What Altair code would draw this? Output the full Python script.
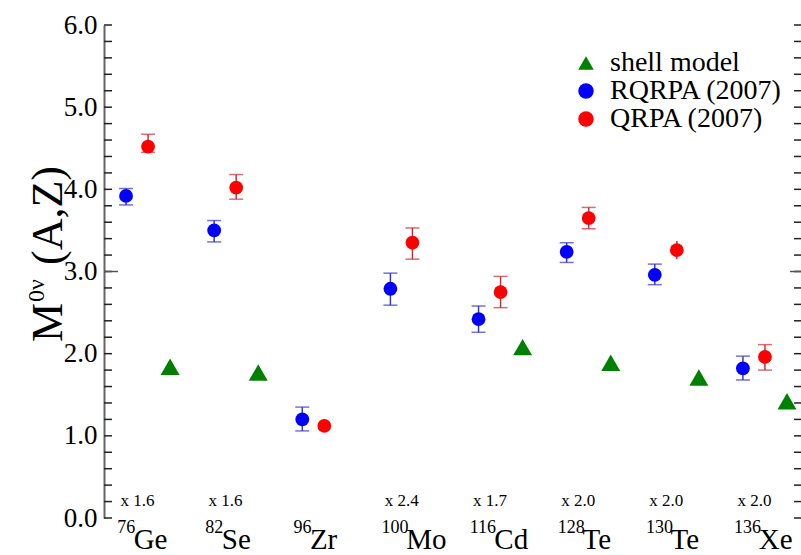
import altair as alt
import pandas as pd

# ---- data ----
mass = ["76", "82", "96", "100", "116", "128", "130", "136"]
element = ["Ge", "Se", "Zr", "Mo", "Cd", "Te", "Te", "Xe"]
factor = ["x 1.6", "x 1.6", "", "x 2.4", "x 1.7", "x 2.0", "x 2.0", "x 2.0"]

rqrpa = [3.92, 3.50, 1.20, 2.79, 2.42, 3.24, 2.96, 1.82]
rqrpa_lo = [3.81, 3.36, 1.06, 2.59, 2.26, 3.11, 2.84, 1.68]
rqrpa_hi = [4.01, 3.62, 1.35, 2.98, 2.58, 3.35, 3.09, 1.97]

qrpa = [4.52, 4.02, 1.12, 3.35, 2.75, 3.65, 3.26, 1.96]
qrpa_lo = [4.45, 3.88, 1.12, 3.15, 2.56, 3.52, 3.15, 1.80]
qrpa_hi = [4.67, 4.18, 1.12, 3.53, 2.94, 3.78, 3.37, 2.11]
qrpa_cap = [True, True, False, True, True, True, False, True]

shell = [1.84, 1.77, None, None, 2.08, 1.89, 1.71, 1.42]

y_ticks = [round(0.2 * k, 1) for k in range(31)]
y_labels = [0, 1, 2, 3, 4, 5, 6]

SERIES = ["shell model", "RQRPA (2007)", "QRPA (2007)"]
COLORS = ["#008000", "#0000ff", "#ff0000"]
SHAPES = ["triangle-up", "circle", "circle"]
FONT = "Liberation Serif"

rows = []
for i in range(8):
    rows.append(dict(series="RQRPA (2007)", x=i, v=rqrpa[i], lo=rqrpa_lo[i],
                     hi=rqrpa_hi[i], cap=True))
    rows.append(dict(series="QRPA (2007)", x=i + 0.25, v=qrpa[i], lo=qrpa_lo[i],
                     hi=qrpa_hi[i], cap=qrpa_cap[i]))
    if shell[i] is not None:
        rows.append(dict(series="shell model", x=i + 0.5, v=shell[i], lo=None,
                         hi=None, cap=False))
df = pd.DataFrame(rows)
capped = df[df["cap"] == True]
caps = pd.concat([capped.assign(c=capped["lo"]), capped.assign(c=capped["hi"])])

lab = pd.DataFrame({
    "mass": mass, "element": element, "factor": factor,
    "i": list(range(8)),
})
lab["mx"] = lab["i"] - 0.1
lab["ex"] = lab["i"] - 0.1 + lab["mass"].str.len() * 8.2 / 88.0
lab["fx"] = lab["i"] + 0.13

xs = alt.Scale(domain=[-0.25, 7.659], nice=False, zero=False)
ys = alt.Scale(domain=[0, 6], nice=False, zero=True)
X = lambda f: alt.X(f, type="quantitative", scale=xs, axis=None)

# axes
yaxis = alt.Chart(pd.DataFrame({"t": y_labels})).mark_point(opacity=0).encode(
    x=alt.X("t:Q", scale=xs, axis=alt.Axis(labels=False, ticks=False, title=None,
                                              domainColor="#000000", domainWidth=2,
                                              grid=False)),
    y=alt.Y("t:Q", scale=ys, axis=alt.Axis(values=y_labels, format=".1f",
                                              ticks=False, title=None, grid=False,
                                              labelFont=FONT, labelFontSize=27,
                                              labelColor="#000000", labelPadding=7,
                                              domainColor="#666666", domainWidth=2)),
)

tickdf = pd.DataFrame({"t": y_ticks})
lticks = alt.Chart(tickdf).mark_rule(color="#222222", strokeWidth=1.5).encode(
    y=alt.Y("t:Q", scale=ys), x=alt.value(0), x2=alt.value(8))
lticks3 = alt.Chart(pd.DataFrame({"t": [3.0]})).mark_rule(color="#555555", strokeWidth=1.5).encode(
    y=alt.Y("t:Q", scale=ys), x=alt.value(0), x2=alt.value(14))
rticks = alt.Chart(tickdf).mark_rule(color="#222222", strokeWidth=1.5).encode(
    y=alt.Y("t:Q", scale=ys), x=alt.value(690), x2=alt.value(697))
rticks3 = alt.Chart(pd.DataFrame({"t": [3.0]})).mark_rule(color="#555555", strokeWidth=1.5).encode(
    y=alt.Y("t:Q", scale=ys), x=alt.value(686), x2=alt.value(697))

# error bars (one layer per series, fixed colours)
def errlayers(name, col):
    b = alt.Chart(df).transform_filter(f"datum.series == '{name}'").mark_rule(
        strokeWidth=1.5, color=col).encode(x=X("x"), y=alt.Y("lo:Q", scale=ys), y2="hi:Q")
    c = alt.Chart(caps).transform_filter(f"datum.series == '{name}'").mark_tick(
        orient="horizontal", size=14, thickness=1.5, color=col).encode(
        x=X("x"), y=alt.Y("c:Q", scale=ys))
    return [b, c]

eb = errlayers("RQRPA (2007)", "#3636c8") + errlayers("QRPA (2007)", "#c83030")

LEG = alt.Legend(title=None, orient="none", legendX=468, legendY=24,
                 labelFont=FONT, labelFontSize=28, labelColor="#000000",
                 labelLimit=400, symbolSize=240, symbolStrokeWidth=0,
                 rowPadding=0, labelOffset=10, padding=0)
colorenc = alt.Color("series:N", scale=alt.Scale(domain=SERIES, range=COLORS), legend=LEG)
shapeenc = alt.Shape("series:N", scale=alt.Scale(domain=SERIES, range=SHAPES), legend=LEG)

circles = alt.Chart(df).transform_filter("datum.series != 'shell model'").mark_point(
    filled=True, size=190, opacity=1).encode(
    x=X("x"), y=alt.Y("v:Q", scale=ys), color=colorenc, shape=shapeenc)
tris = alt.Chart(df).transform_filter("datum.series == 'shell model'").mark_point(
    filled=True, size=360, opacity=1).encode(
    x=X("x"), y=alt.Y("v:Q", scale=ys), color=colorenc, shape=shapeenc)

# category labels
lc = alt.Chart(lab)
mtext = lc.mark_text(font=FONT, fontSize=18, align="left", baseline="alphabetic",
                     color="#000000").encode(x=X("mx"), y=alt.value(508), text="mass:N")
etext = lc.mark_text(font=FONT, fontSize=29, align="left", baseline="alphabetic",
                     color="#000000").encode(x=X("ex"), y=alt.value(524), text="element:N")
ftext = lc.mark_text(font=FONT, fontSize=17, align="center", baseline="alphabetic",
                     color="#000000").encode(x=X("fx"), y=alt.value(481), text="factor:N")

# y-axis title  M^{0nu}(A,Z)
t1 = alt.Chart(pd.DataFrame({"s": ["M"]})).mark_text(
    font=FONT, fontSize=44, angle=270, align="left", baseline="alphabetic", color="#000000"
).encode(x=alt.value(-42), y=alt.value(317), text="s:N")
t2 = alt.Chart(pd.DataFrame({"s": ["0ν"]})).mark_text(
    font=FONT, fontSize=24, angle=270, align="left", baseline="alphabetic", color="#000000"
).encode(x=alt.value(-60), y=alt.value(277), text="s:N")
t3 = alt.Chart(pd.DataFrame({"s": ["(A,Z)"]})).mark_text(
    font=FONT, fontSize=44, angle=270, align="left", baseline="alphabetic", color="#000000"
).encode(x=alt.value(-42), y=alt.value(240), text="s:N")

chart = alt.layer(
    yaxis, lticks, lticks3, rticks, rticks3, *eb, tris, circles,
    mtext, etext, ftext, t1, t2, t3,
).properties(
    width=697, height=493,
    autosize=alt.AutoSizeParams(type="none"),
    padding={"left": 104, "top": 25, "right": 0, "bottom": 37},
    background="#ffffff",
).configure(font=FONT).configure_view(stroke=None).configure_axis(
    labelFont=FONT).configure_legend(labelFont=FONT)

chart.save("out.html", embed_options={"renderer": "svg", "actions": False})
